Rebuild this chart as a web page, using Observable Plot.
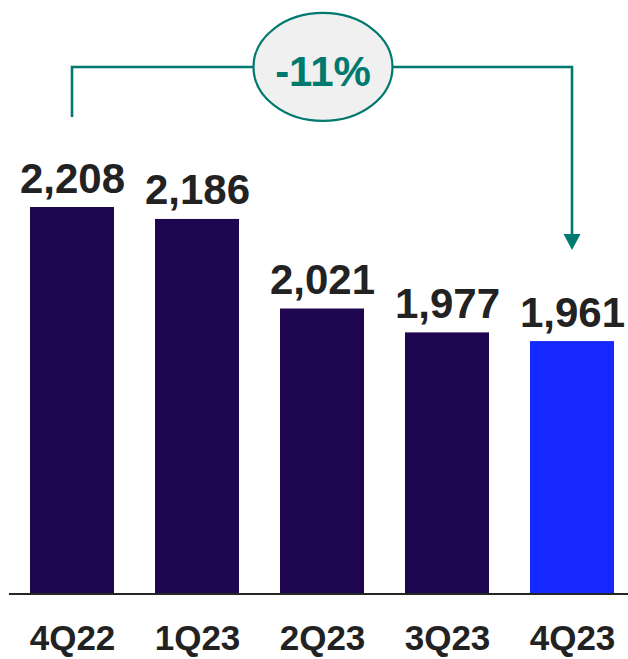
<!DOCTYPE html>
<html>
<head>
<meta charset="utf-8">
<script src="https://cdn.jsdelivr.net/npm/d3@7"></script>
<script src="https://cdn.jsdelivr.net/npm/@observablehq/plot@0.6"></script>
<style>
  html, body { margin: 0; padding: 0; background: #fff; }
  #chart { width: 628px; height: 659px; }
</style>
</head>
<body>
<div id="chart"></div>
<script>
const quarters = ["4Q22", "1Q23", "2Q23", "3Q23", "4Q23"];
const values = [2208, 2186, 2021, 1977, 1961];
const highlight = [false, false, false, false, true];
const valueLabels = ["2,208", "2,186", "2,021", "1,977", "1,961"];

const changeLabel = "-11%";
const changeFrom = "4Q22";
const changeTo = "4Q23";
// annotation levels in data units
const bracketLevel = 2466;
const bracketStart = 2374;
const bracketEnd = 2129;

const yBase = 1496;

const data = quarters.map((q, i) => ({q, v: values[i], hl: highlight[i], label: valueLabels[i]}));

const teal = "#00796F";

function annotation(index, scales) {
  const x = scales.x, y = scales.y;
  const bw = typeof x.bandwidth === "function" ? x.bandwidth() : (+x.bandwidth || 0);
  const x1 = x(changeFrom) + bw / 2;
  const x2 = x(changeTo) + bw / 2;
  const yt = y(bracketLevel), ys = y(bracketStart), ye = y(bracketEnd);
  const g = d3.create("svg:g");
  g.append("path")
    .attr("d", `M${x1},${ys}V${yt}H${x2}V${ye - 15}`)
    .attr("fill", "none").attr("stroke", teal).attr("stroke-width", 2.6);
  g.append("path")
    .attr("d", `M${x2 - 8.5},${ye - 16}L${x2 + 8.5},${ye - 16}L${x2},${ye}Z`)
    .attr("fill", teal);
  const cx = (x1 + x2) / 2 + 1;
  g.append("ellipse")
    .attr("cx", cx).attr("cy", yt).attr("rx", 69.5).attr("ry", 54)
    .attr("fill", "#F0F0F0").attr("stroke", teal).attr("stroke-width", 2.2);
  g.append("text")
    .attr("x", cx).attr("y", yt + 19)
    .attr("text-anchor", "middle")
    .attr("font-size", 42).attr("font-weight", "bold")
    .attr("fill", teal)
    .text(changeLabel);
  return g.node();
}

const chart = Plot.plot({
  width: 628,
  height: 659,
  marginLeft: 9,
  marginRight: 0,
  marginTop: 0,
  marginBottom: 65.5,
  style: {fontFamily: "'Liberation Sans', Arial, sans-serif", background: "#fff"},
  x: {domain: quarters, range: [30, 614], paddingInner: 0.328, paddingOuter: 0, label: null},
  y: {domain: [yBase, 2208], range: [593.5, 207], axis: null},
  marks: [
    Plot.barY(data, {x: "q", y1: yBase, y2: "v", fill: d => d.hl ? "#1428FF" : "#1E0650"}),
    Plot.ruleY([yBase], {stroke: "#262626", strokeWidth: 2.2}),
    Plot.text(data, {x: "q", y: "v", text: "label", dy: -15, lineAnchor: "bottom",
      fontSize: 42, fontWeight: "bold", fill: "#222"}),
    Plot.axisX({tickSize: 0, tickPadding: 31, fontSize: 35, fontWeight: "bold", fill: "#222", label: null}),
    annotation
  ]
});
document.getElementById("chart").appendChild(chart);
</script>
</body>
</html>
